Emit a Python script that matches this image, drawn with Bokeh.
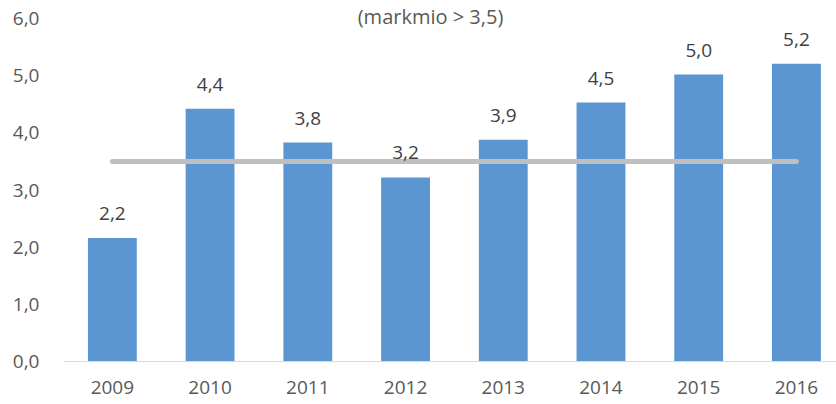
from bokeh.plotting import figure
from bokeh.models import ColumnDataSource, Range1d, FixedTicker, Label
from bokeh.embed import file_html
from bokeh.resources import INLINE
from bokeh.core.properties import value

years = ["2009", "2010", "2011", "2012", "2013", "2014", "2015", "2016"]
values = [2.16, 4.42, 3.83, 3.22, 3.88, 4.53, 5.02, 5.21]
target = 3.5
title_text = "(markmio > 3,5)"
y_ticks = [0, 1, 2, 3, 4, 5, 6]

xs = list(range(len(years)))
labels = [f"{v:.1f}".replace(".", ",") for v in values]
src = ColumnDataSource(dict(x=xs, top=values, lab=labels))

FONT = "Open Sans"
# frame spans page y 0..361; the 6,0 tick sits 18px below its top
p = figure(width=836, height=404, output_backend="svg", toolbar_location=None,
           x_range=Range1d(-0.5, 7.41), y_range=Range1d(0, 6 * 361 / 343))
p.min_border_left = 63
p.min_border_right = 0
p.min_border_top = 0
p.min_border_bottom = 43
p.outline_line_color = None
p.grid.grid_line_color = None
p.background_fill_color = "white"
p.border_fill_color = "white"

p.vbar(x="x", top="top", width=0.5, bottom=0, source=src,
       fill_color="#5B96D3", line_color=None)

p.line(x=[xs[0], xs[-1]], y=[target, target], line_color="#BFBFBF",
       line_width=5, line_cap="round")

p.text(x="x", y="top", text="lab", source=src, text_align="center",
       text_baseline="bottom", y_offset=-18, text_font=value(FONT),
       text_font_size="19px", text_color="#404040")

# y axis
ya = p.yaxis[0]
ya.ticker = FixedTicker(ticks=y_ticks)
ya.major_label_overrides = {t: f"{t:.1f}".replace(".", ",") for t in y_ticks}
ya.axis_line_color = None
ya.major_tick_line_color = None
ya.minor_tick_line_color = None
ya.major_label_standoff = 18
ya.major_label_text_font = FONT
ya.major_label_text_font_size = "19px"
ya.major_label_text_color = "#595959"

xa = p.xaxis[0]
xa.ticker = FixedTicker(ticks=xs)
xa.major_label_overrides = {i: y for i, y in enumerate(years)}
xa.axis_line_color = "#D9D9D9"
xa.axis_line_width = 1
xa.major_tick_line_color = None
xa.minor_tick_line_color = None
xa.major_label_standoff = 13
xa.major_label_text_font = FONT
xa.major_label_text_font_size = "19px"
xa.major_label_text_color = "#595959"

# screen units are measured from the frame's bottom-left corner
p.add_layout(Label(x=367, y=345, x_units="screen", y_units="screen",
                   text=title_text, text_align="center", text_baseline="alphabetic",
                   text_font=FONT, text_font_size="20px", text_color="#595959"))

open("out.html", "w").write(file_html(p, INLINE))
